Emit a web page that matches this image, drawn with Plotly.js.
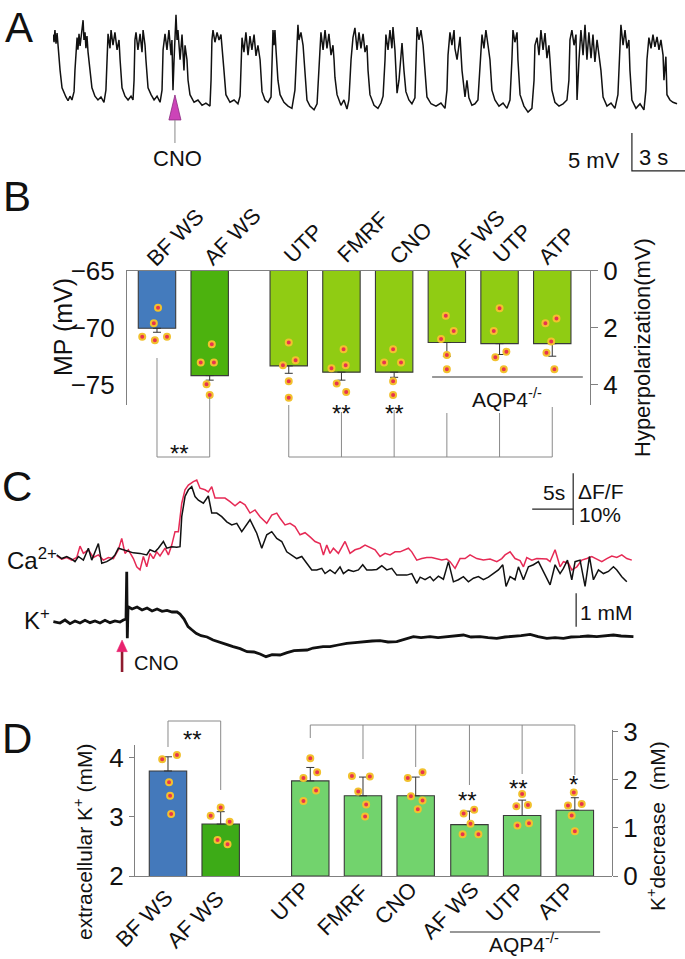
<!DOCTYPE html>
<html>
<head>
<meta charset="utf-8">
<script src="https://cdn.plot.ly/plotly-3.0.1.min.js"></script>
<style>
  html, body { margin: 0; padding: 0; background: #fff; }
  #chart { width: 685px; height: 959px; }
</style>
</head>
<body>
<div id="chart"></div>
<script>
// Four-panel figure: A membrane potential, B MP bars, C Ca/K traces, D K+ bars

const W = 685, H = 959;
const FONT = "Liberation Sans, Arial, Helvetica, sans-serif";
const INK = "#111";
const GRAY = "#8a8a8a";
const DOT_FILL = "#e8344e";
const DOT_RING = "#f2c12e";

// ---------- Panel A: membrane potential (s, mV above down-state) ----------
const tA = [
  0.00, 0.06, 0.11, 0.17, 0.23, 0.28, 0.40, 0.51, 0.62, 0.73, 0.85, 0.96, 1.07, 1.19, 1.24, 1.30,
  1.36, 1.41, 1.47, 1.53, 1.64, 1.70, 1.75, 1.81, 1.86, 1.92, 1.98, 2.09, 2.20, 2.37, 2.54, 2.71, 2.88, 2.99, 3.05,
  3.11, 3.22, 3.28, 3.39, 3.50, 3.62, 3.73, 3.79, 3.90, 4.07, 4.24, 4.41, 4.52, 4.58, 4.63,
  4.69, 4.80, 4.92, 5.03, 5.09, 5.20, 5.25, 5.37, 5.54, 5.71, 5.88, 6.05, 6.16, 6.22,
  6.33, 6.44, 6.55, 6.67, 6.72, 6.78, 6.84, 6.89, 6.95, 7.01, 7.06, 7.18, 7.29, 7.40, 7.46, 7.57, 7.63, 7.74, 7.97, 8.19, 8.42, 8.64, 8.87, 8.93, 8.98,
  9.04, 9.15, 9.27, 9.38, 9.49, 9.55, 9.66, 9.77, 10.00, 10.23, 10.45, 10.57, 10.62,
  10.68, 10.79, 10.90, 11.02, 11.13, 11.24, 11.36, 11.47, 11.58, 11.70, 11.81, 11.98, 12.15, 12.32, 12.37, 12.43,
  12.49, 12.54, 12.60, 12.71, 12.83, 13.05, 13.28, 13.50, 13.67, 13.79, 13.84,
  13.90, 14.01, 14.13, 14.24, 14.35, 14.52, 14.75, 14.92, 15.03, 15.09,
  15.14, 15.26, 15.37, 15.48, 15.59, 15.71, 15.82, 15.88, 15.93, 16.05, 16.27, 16.44, 16.61, 16.72, 16.84,
  16.95, 17.06, 17.18, 17.29, 17.40, 17.52, 17.63, 17.74, 17.80, 17.91, 18.14, 18.36, 18.53, 18.65, 18.76,
  18.81, 18.93, 19.04, 19.15, 19.21, 19.32, 19.44, 19.55, 19.66, 19.72, 19.83, 19.94, 20.11, 20.28, 20.45, 20.51, 20.57,
  20.68, 20.79, 20.91, 21.02, 21.13, 21.36, 21.64, 21.92, 22.15, 22.26, 22.32,
  22.43, 22.54, 22.66, 22.71, 22.83, 22.94, 23.00, 23.11, 23.28, 23.39, 23.50, 23.67, 23.84, 24.01, 24.13,
  24.24, 24.35, 24.46, 24.58, 24.69, 24.80, 24.97, 25.20, 25.43, 25.65, 25.82, 25.93,
  25.99, 26.10, 26.22, 26.27, 26.39, 26.61, 26.84, 27.06, 27.18, 27.23,
  27.35, 27.46, 27.57, 27.69, 27.80, 27.91, 28.02, 28.08, 28.19, 28.36, 28.59, 28.82, 29.04, 29.15, 29.21,
  29.32, 29.44, 29.55, 29.61, 29.72, 29.83, 29.95, 30.06, 30.17, 30.28, 30.40, 30.51, 30.62, 30.74, 30.85, 30.96, 31.08, 31.30, 31.53, 31.75, 31.92, 32.04,
  32.09, 32.21, 32.32, 32.43, 32.54, 32.60, 32.71, 32.94, 33.17, 33.39, 33.50, 33.56,
  33.67, 33.79, 33.90, 34.01, 34.13, 34.24, 34.35, 34.47, 34.52, 34.63, 34.69, 34.86, 35.03, 35.26
];
const vA = [
  8.6, 7.6, 9.2, 7.4, 8.8, 7.2, 3.9, 1.6, 0.9, 0.4, -0.1, 0.5, 0, 1.1, 3.9, 7.2,
  8.2, 6.6, 8.7, 7.1, 9.5, 10.5, 7.9, 8.9, 6.8, 8.4, 6.3, 3.9, 1.6, 0.5, 0, 0.4, -0.3, 1.3, 6.6,
  8.7, 6.8, 9.2, 7.2, 8.9, 6.6, 7.9, 5.3, 1.6, 0.5, 0, 0.5, 0, 2.6, 7.9,
  8.9, 6.6, 8.7, 6.3, 9.2, 7.2, 5.3, 1.6, 0.7, 0, 0.5, -0.3, 1.3, 6.6,
  8.7, 6.6, 9.2, 5.9, 7.9, 1.3, 5.3, 9.2, 11.2, 7.9, 9.2, 5.3, 8.6, 3.9, 7.2, 5.3, 2.6, 0.7, -0.3, 0, -0.7, -0.4, -0.8, 2.6, 7.9,
  9.2, 7.6, 8.9, 7.9, 8.6, 7.2, 3.9, 0.7, -0.3, 0, -0.5, 0.5, 5.3,
  8.2, 6.3, 8.9, 5.9, 8.4, 6.6, 8.6, 5.8, 7.2, 5.3, 1.1, 0, -0.3, 0.4, 3.9, 9.2,
  7.2, 9.2, 6.6, 2.6, 0.7, -0.3, -0.8, -1.1, 1.3, 6.6, 9.9,
  7.9, 8.9, 7.2, 3.9, 0, -0.8, -1.3, -0.5, 3.9, 7.6,
  8.9, 6.6, 9.2, 6.8, 8.7, 5.9, 7.2, 5.3, 3.0, 0.7, -0.7, 0, -1.2, 0, 5.3,
  8.2, 9.5, 6.6, 8.9, 6.8, 8.7, 6.3, 7.2, 3.9, 0.7, -0.7, -1.1, -0.4, 0.5, 5.3,
  8.6, 6.6, 9.2, 6.8, 9.6, 6.6, 0.9, 2.6, 6.6, 7.5, 3.9, 1.1, 0, -0.5, 0.3, 3.9, 9.6,
  7.9, 9.2, 7.2, 3.3, 0.4, -0.5, -0.8, -0.4, -1.1, 1.3, 5.9,
  8.9, 7.2, 9.2, 6.8, 5.3, 7.2, 8.3, 3.9, 0.4, 2.6, 0.3, -0.7, -0.5, 0, 5.3,
  8.6, 6.8, 9.2, 7.2, 5.3, 1.3, 0, -0.8, -0.4, -1.1, 0, 5.3,
  9.2, 7.6, 8.9, 5.3, 0.7, -0.8, -1.6, -1.1, 2.6, 7.2,
  8.2, 5.9, 9.2, 6.6, 8.8, 5.5, 7.2, 5.3, 1.3, -0.3, -0.8, -0.5, 0, 2.6, 7.9,
  9.2, 7.2, 8.6, 0, 5.3, 9.2, 5.9, 9.9, 5.3, 8.9, 5.5, 8.6, 5.0, 7.9, 5.9, 3.9, 0.4, -0.8, -0.4, -1.1, 0.7, 6.6,
  9.9, 7.2, 9.2, 6.8, 7.9, 3.9, 0, -1.1, -0.5, -1.3, 1.3, 5.3,
  8.2, 6.8, 8.6, 7.0, 8.3, 6.6, 7.9, 5.9, 2.6, 5.7, 0.7, 0, -0.3, -0.5
];
const cnoTimeA = 6.89;                       // s, CNO application
const scaleA = { t0: 32.71, v0: -9.34, s: 3, mV: 5 };

// ---------- Panel B: membrane potential (mV) ----------
const labelsB = ["BF WS", "AF WS", "UTP", "FMRF", "CNO", "AF WS", "UTP", "ATP"];
const posB = [0, 1, 2.5, 3.5, 4.5, 5.5, 6.5, 7.5];
const mpMean = [-70.05, -74.2, -73.35, -73.9, -73.9, -71.3, -71.4, -71.4];
const mpSem = [0.35, 0.4, 0.65, 0.7, 0.45, 1.2, 0.95, 1.1];
const mpCells = [
  [-68.25, -69.6, -70.8, -71.1, -70.8],
  [-71.45, -73.05, -73.05, -74.95, -75.9],
  [-71.3, -72.85, -73.3, -74.7, -76.15],
  [-71.9, -73.3, -73.55, -74.9, -75.65],
  [-71.9, -73.05, -73.05, -74.7, -75.9],
  [-68.95, -70.3, -71.0, -72.4, -73.65],
  [-68.3, -70.3, -72.1, -72.6, -73.65],
  [-69.2, -69.6, -71.2, -72.2, -73.65]
];
const mpJitter = [
  [0.02, -0.06, -0.28, -0.04, 0.19],
  [0.04, -0.17, 0.08, -0.06, 0],
  [0, 0.13, -0.11, 0, 0],
  [0.04, 0.08, -0.19, -0.09, 0.09],
  [-0.02, -0.19, 0.13, -0.02, -0.02],
  [-0.02, 0.13, -0.11, 0, 0],
  [0, -0.11, 0.13, -0.08, 0.08],
  [0.08, -0.13, -0.02, -0.11, 0.04]
];
const colorsB = ["#447bbd", "#4cb20e", "#90cc13", "#90cc13", "#90cc13", "#90cc13", "#90cc13", "#90cc13"];

// ---------- Panel C: Ca2+ (dF/F %) and K+ (mM) traces, time in s ----------
const tCaRed = [
  0.00, 0.61, 1.22, 1.83, 2.44, 2.84, 3.25, 3.86, 4.47, 5.08, 5.69, 6.30, 6.91, 7.52, 7.93, 8.33, 8.74, 9.35, 9.76, 10.16,
  10.57, 10.98, 11.38, 11.79, 12.20, 12.60, 13.21, 13.62, 14.03, 14.43, 14.84, 15.25, 15.65, 16.06, 16.67, 17.08, 17.48, 18.09, 18.50, 18.91,
  19.31, 19.92, 20.53, 21.14, 21.75, 22.36, 22.97, 23.58, 24.19, 24.80, 25.21, 25.62, 26.23, 26.84, 27.24, 27.85, 28.46, 29.07, 29.68, 30.29,
  30.90, 31.51, 32.12, 32.53, 32.94, 33.34, 33.75, 34.36, 35.17, 35.78, 36.39, 37.00, 37.61, 38.22, 38.83, 39.44, 40.05, 40.66, 41.27, 41.88,
  42.49, 42.90, 43.31, 43.92, 44.53, 45.14, 45.75, 46.36, 46.97, 47.58, 47.98, 48.59, 49.20, 49.81, 50.42, 51.24, 52.05, 52.86, 53.68, 54.29,
  54.69, 55.30, 55.91, 56.52, 56.93, 57.34, 57.95, 58.56, 59.17, 59.78, 60.18, 60.79, 61.40, 61.81, 62.42, 62.83, 63.44, 64.05, 64.66, 65.27,
  65.88, 66.49, 67.10, 67.71, 68.32, 68.93, 69.54, 70.15
];
const caRed = [
  0.2, -0.4, -0.1, -0.6, -0.1, 2.1, 0.7, 1.4, -0.1, 0.4, -0.6, -0.1, -0.3, 1.4, 3.6, 0.7, 1.4, -0.3, -1.9, -2.5,
  0.1, -1.9, 0.7, -0.3, 1.0, 0.2, 1.7, 0.4, 2.3, 4.9, 4.9, 10.4, 13.0, 13.9, 14.6, 14.9, 13.3, 13.0, 12.6, 13.6,
  11.4, 11.4, 11.4, 10.7, 9.9, 10.7, 10.1, 8.5, 9.1, 7.8, 7.2, 6.5, 8.1, 8.5, 7.5, 6.2, 6.5, 5.9, 4.3, 4.7,
  3.9, 3.0, 2.6, 0.4, 2.3, 0.7, 1.7, 0.7, 3.0, 0.7, 1.4, 1.7, 2.3, 1.9, 1.4, 0.1, 0.7, 0.4, 1.0, 1.0,
  1.4, 1.7, 1.0, -0.6, -0.3, -0.1, -0.1, -0.3, -0.6, -0.4, -0.9, -2.2, -0.3, -0.3, 0.4, -0.3, -0.6, -0.4, -0.9, -0.3,
  0.4, 1.0, -0.3, -0.7, -1.9, -0.1, -0.6, -0.3, -0.3, -0.4, -0.9, 1.4, -1.9, -0.9, -1.2, -2.5, -1.9, -0.6, -0.3, 0.1,
  -0.4, -0.9, -0.3, 0.2, -0.1, 0.4, -0.3, -0.6
];
const tCaBlack = [
  0.00, 0.61, 1.22, 1.83, 2.23, 2.64, 3.25, 3.86, 4.27, 4.67, 5.08, 5.49, 6.10, 6.71, 7.11, 7.52, 8.13, 8.74, 9.35, 10.16,
  10.98, 11.38, 11.99, 12.40, 13.01, 13.42, 14.03, 14.64, 15.04, 15.25, 15.65, 16.06, 16.47, 16.87, 17.28, 17.89, 18.30, 18.50, 18.91, 19.52,
  20.13, 20.74, 21.35, 21.96, 22.57, 22.97, 23.58, 24.40, 25.01, 25.62, 26.23, 26.84, 27.45, 28.06, 28.67, 29.28, 29.89, 30.50, 31.11, 31.72,
  32.33, 32.73, 33.34, 33.95, 34.56, 34.97, 35.58, 36.19, 36.80, 37.33, 37.82, 38.43, 39.04, 39.65, 40.26, 40.87, 41.48, 42.09, 42.70, 43.31,
  43.92, 44.33, 44.93, 45.54, 45.95, 46.56, 47.17, 47.78, 48.39, 49.00, 49.61, 50.22, 50.83, 51.44, 52.05, 52.66, 53.27, 53.88, 54.41, 54.81,
  55.30, 55.91, 56.32, 56.93, 57.54, 58.15, 58.76, 59.37, 60.18, 60.79, 61.40, 61.81, 62.30, 62.83, 63.23, 63.84, 64.45, 64.98, 65.47, 66.08,
  66.69, 67.30, 67.91, 68.32, 68.93, 69.54
];
const caBlack = [
  0.4, -0.3, 0.1, -0.4, -0.9, 0.1, -0.6, 1.7, -0.6, 1.0, 2.6, -1.2, -0.9, -0.3, 0.4, 1.7, 1.4, 1.0, 0.8, 0.7,
  0.4, 1.4, 1.0, 1.7, 3.0, 1.7, 2.0, 1.9, 2.0, 7.8, 11.7, 13.0, 13.6, 11.7, 11.0, 10.4, 11.4, 11.8, 8.5, 8.5,
  7.8, 6.8, 6.2, 6.5, 4.9, 5.9, 7.2, 4.6, 1.7, 4.3, 4.9, 3.6, 3.0, 1.0, 0.4, -0.3, 0.1, -1.2, -2.5, -2.5,
  -2.2, -3.2, -2.5, -3.2, -1.9, -3.2, -2.5, -2.8, -2.5, -1.5, -2.5, -2.5, -2.4, -1.7, -2.5, -2.2, -3.5, -3.5, -3.5, -3.2,
  -5.1, -3.9, -4.4, -3.8, -4.6, -3.7, -4.3, -0.9, -4.8, -4.4, -3.8, -4.8, -4.1, -3.8, -4.4, -3.9, -3.2, -2.5, -1.5, -5.7,
  -3.8, -4.4, -1.9, -4.4, -1.9, -1.5, -0.9, -2.8, -5.4, -1.5, -3.2, -2.2, -0.6, -4.4, -0.9, -0.6, -5.7, 0.1, -4.4, -2.5,
  -3.2, -2.8, -1.9, -2.5, -3.8, -4.8
];
const tK = [
  -0.41, 0.40, 1.01, 1.62, 2.23, 2.84, 3.45, 4.06, 4.67, 5.28, 5.89, 6.50, 7.11, 7.72, 8.13, 8.45, 8.54, 8.61, 8.70, 9.19,
  9.80, 10.41, 11.02, 11.63, 12.24, 12.85, 13.46, 14.07, 14.68, 15.04, 15.53, 16.02, 16.51, 17.00, 17.61, 18.34, 19.07, 19.93, 20.78, 21.51,
  22.37, 23.22, 24.07, 24.80, 25.53, 26.27, 27.24, 28.10, 28.95, 30.54, 31.27, 32.49, 33.34, 34.32, 35.38, 36.39, 37.41, 38.47, 39.44, 40.42,
  41.48, 42.49, 43.51, 44.44, 45.54, 46.52, 47.58, 48.59, 49.61, 50.54, 51.64, 52.62, 53.68, 54.69, 55.71, 56.65, 57.75, 58.72, 59.78, 60.79,
  61.81, 62.75, 63.84, 64.81, 65.88, 66.89, 67.91, 68.84, 70.35
];
const kTrace = [
  0.01, -0.03, 0.06, -0.05, 0.03, -0.03, 0.05, -0.02, 0.03, -0.03, 0.05, -0.02, 0.03, 0.00, 0.06, 0.09, 1.51, -0.49, 0.46, 0.39,
  0.45, 0.36, 0.42, 0.33, 0.39, 0.32, 0.35, 0.30, 0.30, 0.24, 0.09, -0.14, -0.24, -0.34, -0.41, -0.45, -0.54, -0.60, -0.68, -0.74,
  -0.80, -0.89, -0.90, -0.96, -1.04, -0.98, -0.99, -0.92, -0.86, -0.84, -0.78, -0.74, -0.74, -0.69, -0.64, -0.62, -0.59, -0.57, -0.56, -0.60,
  -0.59, -0.51, -0.44, -0.47, -0.44, -0.47, -0.44, -0.42, -0.39, -0.45, -0.44, -0.47, -0.49, -0.45, -0.44, -0.41, -0.37, -0.44, -0.49, -0.47,
  -0.49, -0.45, -0.44, -0.42, -0.44, -0.41, -0.39, -0.42, -0.44
];
const cnoTimeC = 7.97;
const scaleCa = { t0: 58.0, f0: 9.28, s: 5, fTop: 16.2, pct: 10 };
const scaleK = { t: 63.36, k0: -0.14, mM: 1 };

// ---------- Panel D: extracellular K+ (mM) and K+ decrease (mM) ----------
const labelsD = ["BF WS", "AF WS", "UTP", "FMRF", "CNO", "AF WS", "UTP", "ATP"];
const posD = [0, 1, 2.7, 3.7, 4.7, 5.72, 6.72, 7.72];
const kConcMean = [3.78, 2.88];
const kConcSem = [0.24, 0.21];
const kConcCells = [
  [3.98, 4.05, 3.59, 3.36, 3.05],
  [3.02, 3.16, 2.92, 2.61, 2.54]
];
const kConcJitter = [
  [-0.11, 0.17, 0.02, 0.04, 0.06],
  [-0.19, 0, 0.17, -0.06, 0.13]
];
const kDecMean = [1.98, 1.67, 1.67, 1.07, 1.26, 1.37];
const kDecSem = [0.28, 0.39, 0.39, 0.28, 0.32, 0.26];
const kDecCells = [
  [2.45, 2.16, 2.04, 1.78, 1.56],
  [2.08, 2.07, 1.76, 1.49, 1.24],
  [2.04, 2.16, 1.66, 1.57, 1.39],
  [1.30, 1.38, 1.09, 0.87, 0.87],
  [1.71, 1.45, 1.48, 1.05, 1.10],
  [1.74, 1.47, 1.50, 1.26, 0.93]
];
const kDecJitter = [
  [0, 0.13, -0.13, 0.11, -0.13],
  [-0.21, 0.13, -0.09, 0.06, 0.04],
  [-0.15, 0.13, -0.09, 0.13, 0.04],
  [-0.11, 0.09, 0.02, -0.13, 0.17],
  [0, -0.11, 0.11, -0.09, 0.13],
  [-0.02, -0.13, 0.13, -0.06, 0]
];
const colorsD = ["#4479bb", "#3dab17", "#72d36d", "#72d36d", "#72d36d", "#72d36d", "#72d36d", "#72d36d"];

// ---------- helpers ----------
const px = x => x / W;
const py = y => 1 - y / H;

function dotTrace(pos, cells, jitter, xa, ya) {
  const x = [], y = [];
  cells.forEach((vals, i) => vals.forEach((v, j) => {
    x.push(pos[i] + jitter[i][j]);
    y.push(v);
  }));
  return {
    type: "scatter", mode: "markers", x, y, xaxis: xa, yaxis: ya,
    marker: { size: 6, color: DOT_FILL, line: { color: DOT_RING, width: 2 } },
    cliponaxis: false, hoverinfo: "skip"
  };
}

function barTrace(pos, mean, up, down, colors, xa, ya) {
  return {
    type: "bar", x: pos, y: mean, width: 0.71, xaxis: xa, yaxis: ya,
    marker: { color: colors, line: { color: "#3a3a3a", width: 1.1 } },
    error_y: { type: "data", symmetric: false, array: up, arrayminus: down,
               color: "#333", thickness: 1, width: 4 },
    hoverinfo: "skip"
  };
}

const line = (x, y, xa, ya, color, width) => ({
  type: "scatter", mode: "lines", x, y, xaxis: xa, yaxis: ya,
  line: { color, width }, hoverinfo: "skip"
});

const zeros = n => new Array(n).fill(0);

// ---------- traces ----------
const traces = [];

// A
traces.push(line(tA, vA, "x", "y", "#111", 1.5));
traces.push(line([scaleA.t0, scaleA.t0, scaleA.t0 + scaleA.s],
                 [scaleA.v0 + scaleA.mV, scaleA.v0, scaleA.v0], "x", "y", "#222", 1.2));
traces.push({
  type: "scatter", mode: "lines", xaxis: "x", yaxis: "y", fill: "toself",
  x: [cnoTimeA - 0.34, cnoTimeA + 0.34, cnoTimeA, cnoTimeA - 0.34],
  y: [-2.63, -2.63, 0.66, -2.63],
  fillcolor: "#cc44b8", line: { color: "#8a2a80", width: 0.8 }, hoverinfo: "skip"
});
traces.push(line([cnoTimeA, cnoTimeA], [-2.63, -5.66], "x", "y", "#888", 1));

// B
traces.push(barTrace(posB, mpMean, zeros(8), mpSem, colorsB, "x2", "y2"));
traces.push(dotTrace(posB, mpCells, mpJitter, "x2", "y2"));
traces.push({ type: "scatter", x: [], y: [], xaxis: "x2", yaxis: "y3", hoverinfo: "skip" });

// C
traces.push(line(tCaRed, caRed, "x3", "y4", "#e62a55", 1.5));
traces.push(line(tCaBlack, caBlack, "x3", "y4", "#111", 1.5));
traces.push(line([scaleCa.t0, scaleCa.t0 + scaleCa.s, null, scaleCa.t0 + scaleCa.s, scaleCa.t0 + scaleCa.s],
                 [scaleCa.f0, scaleCa.f0, null, scaleCa.fTop, scaleCa.fTop - scaleCa.pct], "x3", "y4", "#222", 1.2));
traces.push(line(tK, kTrace, "x3", "y5", "#111", 2.8));
traces.push(line([scaleK.t, scaleK.t], [scaleK.k0, scaleK.k0 + scaleK.mM], "x3", "y5", "#222", 1.2));
traces.push(line([cnoTimeC, cnoTimeC], [-0.87, -1.5], "x3", "y5", "#8e1b2e", 2.6));
traces.push({
  type: "scatter", mode: "lines", xaxis: "x3", yaxis: "y5", fill: "toself",
  x: [cnoTimeC - 0.65, cnoTimeC + 0.65, cnoTimeC, cnoTimeC - 0.65],
  y: [-0.89, -0.89, -0.54, -0.89],
  fillcolor: "#e8226e", line: { color: "#e8226e", width: 0.5 }, hoverinfo: "skip"
});

// D
traces.push(barTrace(posD.slice(0, 2), kConcMean, kConcSem, zeros(2), colorsD.slice(0, 2), "x4", "y6"));
traces.push(barTrace(posD.slice(2), kDecMean, kDecSem, zeros(6), colorsD.slice(2), "x4", "y7"));
traces.push(dotTrace(posD.slice(0, 2), kConcCells, kConcJitter, "x4", "y6"));
traces.push(dotTrace(posD.slice(2), kDecCells, kDecJitter, "x4", "y7"));

// ---------- shapes (brackets, AQP4 lines) ----------
const seg = (xref, x0, y0, x1, y1) => ({
  type: "line", xref, yref: "paper", x0, x1, y0: py(y0), y1: py(y1),
  line: { color: GRAY, width: 1 }
});
const shapes = [
  // B: BF vs AF
  seg("x2", posB[0], 358, posB[0], 457),
  seg("x2", posB[0], 457, posB[1], 457),
  seg("x2", posB[1], 397, posB[1], 457),
  // B: treatments
  seg("x2", posB[2], 457, posB[7], 457),
  ...[405, 412, 410, 413, 413, 407].map((top, i) => seg("x2", posB[i + 2], top, posB[i + 2], 457)),
  { type: "line", xref: "x2", yref: "paper", x0: 5.22, x1: 8.08, y0: py(377), y1: py(377),
    line: { color: "#333", width: 1.2 } },
  // D: BF vs AF
  seg("x4", posD[0], 747, posD[0], 721),
  seg("x4", posD[0], 721, posD[1], 721),
  seg("x4", posD[1], 790, posD[1], 721),
  // D: treatments
  seg("x4", posD[2], 725, posD[7], 725),
  ...[738, 759, 767, 785, 774, 775].map((bot, i) => seg("x4", posD[i + 2], 725, posD[i + 2], bot)),
  { type: "line", xref: "x4", yref: "paper", x0: 5.35, x1: 8.2, y0: py(932), y1: py(932),
    line: { color: "#333", width: 1.2 } }
];

// ---------- annotations ----------
const txt = (text, x, y, size, extra = {}) => ({
  text, x: px(x), y: py(y), xref: "paper", yref: "paper", showarrow: false,
  xanchor: "center", yanchor: "middle",
  font: { family: FONT, size, color: INK }, ...extra
});
const star = (text, xref, x, y) => ({
  text, x, y: py(y), xref, yref: "paper", showarrow: false,
  xanchor: "center", yanchor: "middle", font: { family: FONT, size: 24, color: INK }
});
// group names, tilted 45 degrees; centres of the tilted text boxes (px)
const tiltB = [[175, 237], [232, 236], [303, 243], [362, 237], [410, 243], [476, 238], [512, 243], [556, 246]];
const tiltD = [[144, 918], [195, 919], [290, 901], [342, 910], [395, 903], [450, 910], [505, 902], [555, 901]];
const tilted = (names, spots) => names.map((t, i) => txt(t, spots[i][0], spots[i][1], 22, { textangle: -45 }));

const annotations = [
  txt("A", 19, 2, 42, { yanchor: "top" }), txt("B", 17, 197, 42), txt("C", 17, 486, 42), txt("D", 17, 738, 42),
  // A
  txt("CNO", 177, 158, 22),
  txt("5 mV", 622, 160, 22, { xanchor: "right" }),
  txt("3 s", 637, 157, 22, { xanchor: "left" }),
  // B
  ...tilted(labelsB, tiltB),
  txt("MP (mV)", 63, 327, 25, { textangle: -90 }),
  txt("Hyperpolarization(mV)", 642, 348, 22, { textangle: -90 }),
  txt("AQP4<sup>-/-</sup>", 507, 398, 21),
  star("**", "x2", 0.42, 453), star("**", "x2", posB[3], 414), star("**", "x2", posB[4], 414),
  // C
  txt("Ca<sup>2+</sup>", 32, 559, 24),
  txt("K<sup>+</sup>", 37, 619, 24),
  txt("CNO", 156, 663, 20),
  txt("5s", 554, 492, 21),
  txt("\u0394F/F", 601, 491, 21),
  txt("10%", 600, 514, 21),
  txt("1 mM", 606, 612, 21),
  // D
  ...tilted(labelsD, tiltD),
  txt("extracellular K<sup>+</sup> (mM)", 83, 842, 21, { textangle: -90 }),
  txt("K<sup>+</sup>decrease\u00a0\u00a0(mM)", 656, 826, 21, { textangle: -90 }),
  txt("AQP4<sup>-/-</sup>", 524, 943, 21),
  star("**", "x4", 0.46, 739), star("**", "x4", 5.69, 800),
  star("**", "x4", 6.66, 788), star("*", "x4", 7.69, 784)
];

// ---------- axes ----------
const hidden = { visible: false, fixedrange: true };
const baseAx = { showgrid: false, zeroline: false, fixedrange: true, linecolor: "#808080", linewidth: 1,
                 tickcolor: "#808080", tickfont: { family: FONT, size: 26, color: INK } };

const layout = {
  width: W, height: H,
  margin: { l: 0, r: 0, t: 0, b: 0 },
  paper_bgcolor: "#fff", plot_bgcolor: "rgba(0,0,0,0)",
  showlegend: false,
  // A
  xaxis: { ...hidden, domain: [px(53), 1], range: [0, 35.71], anchor: "y" },
  yaxis: { ...hidden, domain: [py(175), py(10)], range: [-9.87, 11.84], anchor: "x" },
  // B
  xaxis2: { ...baseAx, domain: [px(127), px(590)], range: [-0.569, 8.216], anchor: "y2", side: "top",
            showline: true, showticklabels: false, ticks: "" },
  yaxis2: { ...baseAx, domain: [py(405), py(270.7)], range: [-76.78, -65], anchor: "x2",
            showline: true, tickmode: "array", tickvals: [-65, -70, -75], ticks: "", ticklabelstandoff: 6 },
  yaxis3: { ...baseAx, overlaying: "y2", side: "right", anchor: "x2", range: [4.71, 0],
            showline: true, tickmode: "array", tickvals: [0, 2, 4], ticks: "outside", ticklen: 7 },
  // C
  xaxis3: { ...hidden, domain: [px(40), px(650)], range: [-2.04, 72.37], anchor: "y4" },
  yaxis4: { ...hidden, domain: [py(592), py(470)], range: [-6.77, 16.83], anchor: "x3" },
  yaxis5: { ...hidden, domain: [py(680), py(560)], range: [-1.74, 1.86], anchor: "x3" },
  // D
  xaxis4: { ...baseAx, domain: [px(135), px(612)], range: [-0.626, 8.425], anchor: "y6",
            showline: true, showticklabels: false, ticks: "" },
  yaxis6: { ...baseAx, domain: [py(876), py(745)], range: [2, 4.22], anchor: "x4",
            showline: true, tickmode: "array", tickvals: [2, 3, 4], ticks: "outside", ticklen: 5 },
  yaxis7: { ...baseAx, domain: [py(876), py(730)], range: [0, 3.04], anchor: "x4", side: "right",
            showline: true, tickmode: "array", tickvals: [0, 1, 2, 3], ticks: "outside", ticklen: 5 },
  shapes,
  annotations
};

Plotly.newPlot("chart", traces, layout, { displayModeBar: false, staticPlot: true });
</script>
</body>
</html>
